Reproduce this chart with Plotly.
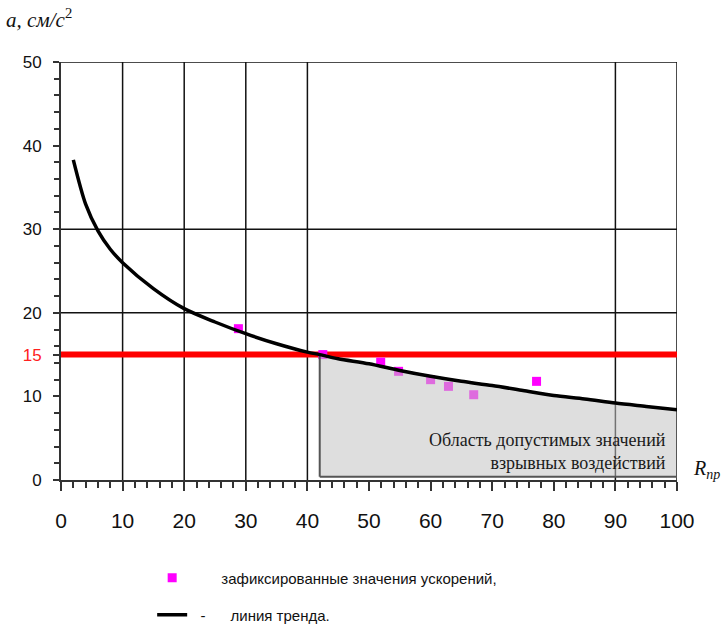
import plotly.graph_objects as go

# ---- data ----
curve_x = [2, 4, 6, 8, 10, 15, 20, 25, 30, 35, 40, 42, 45, 50, 55, 60, 65, 70, 75, 80, 85, 90, 95, 100]
curve_y = [38.3, 33.0, 29.8, 27.6, 26.0, 22.9, 20.5, 18.9, 17.5, 16.3, 15.3, 15.0, 14.5, 13.9, 13.1, 12.4,
           11.8, 11.3, 10.7, 10.1, 9.7, 9.2, 8.8, 8.4]

points_x = [28.8, 42.5, 51.9, 54.8, 60.0, 62.9, 67.0, 77.2]
points_y = [18.1, 15.0, 14.1, 13.0, 12.0, 11.2, 10.2, 11.8]

threshold = 15
region_x0 = 42
region_base = 0.4

x_ticks = list(range(0, 101, 10))
y_ticks = [0, 10, 15, 20, 30, 40, 50]
y_ticktext = ["0", "10", "<span style='color:#ff2020'>15</span>", "20", "30", "40", "50"]
grid_x = [10, 20, 30, 40, 90, 100]
grid_y = [20, 30, 50]

region_text = "Область допустимых значений<br>взрывных воздействий"
legend_points = "\u00a0\u00a0\u00a0\u00a0\u00a0\u00a0\u00a0зафиксированные значения ускорений,"
legend_trend = "\u00a0\u00a0-\u00a0\u00a0\u00a0\u00a0\u00a0\u00a0линия тренда."

# ---- build region polygon from curve data ----
rx = [x for x in curve_x if x >= region_x0]
ry = [y for x, y in zip(curve_x, curve_y) if x >= region_x0]
poly_x = [rx[0]] + rx + [rx[-1], rx[0]]
poly_y = [region_base] + ry + [region_base, region_base]

fig = go.Figure()

fig.add_trace(go.Scatter(x=[0, 100], y=[threshold, threshold], mode="lines",
                         line=dict(color="#ff0000", width=6), showlegend=False,
                         hoverinfo="skip", cliponaxis=False))

fig.add_trace(go.Scatter(x=points_x, y=points_y, mode="markers",
                         marker=dict(symbol="square", color="#ff00ff", size=9),
                         name=legend_points, legend="legend"))

fig.add_trace(go.Scatter(x=poly_x, y=poly_y, mode="lines", fill="toself",
                         fillcolor="rgba(195,195,195,0.55)",
                         line=dict(color="#555555", width=2),
                         showlegend=False, hoverinfo="skip"))

fig.add_trace(go.Scatter(x=curve_x, y=curve_y, mode="lines",
                         line=dict(color="#000000", width=3.5, shape="spline", smoothing=0.8),
                         name=legend_trend, legend="legend2"))

shapes = []
for gx in grid_x:
    shapes.append(dict(type="line", xref="x", yref="y", x0=gx, x1=gx, y0=0, y1=50,
                       line=dict(color="#111111", width=1.5), layer="below"))
for gy in grid_y:
    shapes.append(dict(type="line", xref="x", yref="y", x0=-1.2, x1=100, y0=gy, y1=gy,
                       line=dict(color="#111111", width=1.5), layer="below"))

legend_font = dict(family="Liberation Sans, Arial", size=15, color="#111111")

fig.update_layout(
    width=722, height=627,
    margin=dict(l=61, r=45, t=62, b=147),
    plot_bgcolor="white", paper_bgcolor="white",
    shapes=shapes,
    showlegend=True,
    legend=dict(x=0.148, y=0.0781, xref="paper", yref="container",
                xanchor="left", yanchor="middle",
                font=legend_font, bgcolor="rgba(0,0,0,0)"),
    legend2=dict(x=0.148, y=0.0190, xref="paper", yref="container",
                 xanchor="left", yanchor="middle",
                 font=legend_font, bgcolor="rgba(0,0,0,0)"),
    xaxis=dict(range=[0, 100], tickvals=x_ticks, showgrid=False, zeroline=False,
               showline=True, linecolor="#333333", linewidth=2,
               ticks="outside", ticklen=9, tickwidth=1.5, tickcolor="#333333",
               minor=dict(dtick=2, ticks="outside", ticklen=6, tickcolor="#333333", showgrid=False),
               ticklabelstandoff=12,
               tickfont=dict(family="Liberation Sans Narrow, Liberation Sans, Arial", size=21, color="#111111")),
    yaxis=dict(range=[0, 50], tickvals=y_ticks, ticktext=y_ticktext, showgrid=False, zeroline=False,
               showline=True, linecolor="#333333", linewidth=2,
               ticks="outside", ticklen=6, tickwidth=1.5, tickcolor="#333333",
               minor=dict(dtick=2, ticks="outside", ticklen=5, tickcolor="#333333", showgrid=False),
               ticklabelstandoff=8,
               tickfont=dict(family="Liberation Sans, Arial", size=17, color="#111111")),
    annotations=[
        dict(text=region_text, xref="x", yref="y", x=98.5, y=3.4, xanchor="right", yanchor="middle",
             align="right", showarrow=False,
             font=dict(family="Liberation Serif, Times New Roman", size=18, color="#1a1a1a")),
        dict(text="<i>a, см/с</i><sup>2</sup>", xref="paper", yref="paper", x=-0.092, y=1.105,
             xanchor="left", yanchor="middle", showarrow=False,
             font=dict(family="Liberation Serif, Times New Roman", size=21, color="#111111")),
        dict(text="<i>R</i><sub><i>пр</i></sub>", xref="paper", yref="paper", x=1.022, y=0.024,
             xanchor="left", yanchor="middle", showarrow=False,
             font=dict(family="Liberation Serif, Times New Roman", size=20, color="#111111")),
    ],
)

fig.write_html("out.html")
